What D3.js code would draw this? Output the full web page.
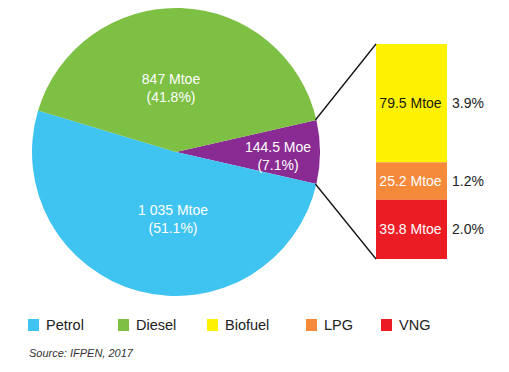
<!DOCTYPE html>
<html>
<head>
<meta charset="utf-8">
<script src="https://cdn.jsdelivr.net/npm/d3@7"></script>
<style>
  html, body { margin: 0; padding: 0; background: #fff; }
  svg { display: block; font-family: "Liberation Sans", Arial, Helvetica, sans-serif; }
</style>
</head>
<body>
<svg id="chart" width="509" height="372"></svg>
<script>
// ---- data ----
const pieCategories = ["Other", "Petrol", "Diesel"];
const pieValues = [144.5, 1035, 847];
const pieValueLabels = ["144.5 Moe", "1 035 Mtoe", "847 Mtoe"];
const piePctLabels = ["(7.1%)", "(51.1%)", "(41.8%)"];

const barCategories = ["Biofuel", "LPG", "VNG"];
const barValues = [79.5, 25.2, 39.8];
const barValueLabels = ["79.5 Mtoe", "25.2 Mtoe", "39.8 Mtoe"];
const barPctLabels = ["3.9%", "1.2%", "2.0%"];

const legendCategories = ["Petrol", "Diesel", "Biofuel", "LPG", "VNG"];
const sourceText = "Source: IFPEN, 2017";

// ---- styles ----
const colors = {
  Other: "#8a2b93", Petrol: "#3fc3f1", Diesel: "#7dc043",
  Biofuel: "#fff200", LPG: "#f58a3a", VNG: "#ec1c24"
};
const barTextColors = { Biofuel: "#1a1a1a", LPG: "#ffffff", VNG: "#ffffff" };

const svg = d3.select("#chart");

// ---- pie ----
const cx = 176, cy = 152, R = 144;
const total = d3.sum(pieValues);
const otherAngle = pieValues[0] / total * 2 * Math.PI;
const start = Math.PI / 2 - otherAngle / 2;
const pie = d3.pie().sort(null).value(d => d.value)
  .startAngle(start).endAngle(start + 2 * Math.PI);
const pieData = pie(pieCategories.map((c, i) => ({ cat: c, value: pieValues[i], i })));
const arc = d3.arc().innerRadius(0).outerRadius(R);

const g = svg.append("g").attr("transform", `translate(${cx},${cy})`);
g.selectAll("path").data(pieData).join("path")
  .attr("d", arc)
  .attr("fill", d => colors[d.data.cat]);

// label placement (layout)
const labelOffsets = [[102, 4], [-3, 67], [-5, -64]];
const lbl = g.selectAll("g.lbl").data(pieData).join("g")
  .attr("class", "lbl")
  .attr("transform", (d, i) => `translate(${labelOffsets[i][0]},${labelOffsets[i][1]})`);
lbl.append("text").attr("text-anchor", "middle").attr("y", -4)
  .attr("fill", "#fff").attr("font-size", 14)
  .text(d => pieValueLabels[d.data.i]);
lbl.append("text").attr("text-anchor", "middle").attr("y", 14)
  .attr("fill", "#fff").attr("font-size", 14)
  .text(d => piePctLabels[d.data.i]);

// ---- bar ----
const barX = 376, barW = 71, barTop = 44, barBottom = 259;
const y = d3.scaleLinear().domain([0, d3.sum(barValues)]).range([barTop, barBottom]);
let acc = 0;
const stacked = barCategories.map((c, i) => {
  const s = { cat: c, y0: acc, y1: acc + barValues[i], i };
  acc += barValues[i];
  return s;
});
svg.selectAll("rect.bar").data(stacked).join("rect")
  .attr("class", "bar")
  .attr("x", barX).attr("width", barW)
  .attr("y", d => y(d.y0)).attr("height", d => y(d.y1) - y(d.y0))
  .attr("fill", d => colors[d.cat]);
svg.selectAll("text.bv").data(stacked).join("text")
  .attr("class", "bv")
  .attr("x", barX + barW / 2 - 1).attr("y", d => (y(d.y0) + y(d.y1)) / 2 + 5)
  .attr("text-anchor", "middle").attr("font-size", 14)
  .attr("fill", d => barTextColors[d.cat])
  .text(d => barValueLabels[d.i]);
svg.selectAll("text.bp").data(stacked).join("text")
  .attr("class", "bp")
  .attr("x", barX + barW + 5).attr("y", d => (y(d.y0) + y(d.y1)) / 2 + 5)
  .attr("font-size", 14).attr("fill", "#222")
  .text(d => barPctLabels[d.i]);

// ---- connector lines ----
const otherSlice = pieData[0];
const p1 = [cx + R * Math.sin(otherSlice.startAngle), cy - R * Math.cos(otherSlice.startAngle)];
const p2 = [cx + R * Math.sin(otherSlice.endAngle), cy - R * Math.cos(otherSlice.endAngle)];
svg.append("line").attr("x1", p1[0] - 1).attr("y1", p1[1]).attr("x2", barX).attr("y2", barTop)
  .attr("stroke", "#111").attr("stroke-width", 1.3);
svg.append("line").attr("x1", p2[0] - 1).attr("y1", p2[1]).attr("x2", barX).attr("y2", barBottom)
  .attr("stroke", "#111").attr("stroke-width", 1.3);

// ---- legend ----
const legendX = [28, 118, 207, 306, 381];
const lg = svg.selectAll("g.leg").data(legendCategories).join("g")
  .attr("class", "leg")
  .attr("transform", (d, i) => `translate(${legendX[i]},319)`);
lg.append("rect").attr("width", 11).attr("height", 12).attr("fill", d => colors[d]);
lg.append("text").attr("x", 18).attr("y", 11).attr("font-size", 14.5)
  .attr("fill", "#222").text(d => d);

// ---- source ----
svg.append("text").attr("x", 29).attr("y", 357)
  .attr("font-size", 11).attr("font-style", "italic").attr("fill", "#333")
  .text(sourceText);
</script>
</body>
</html>
